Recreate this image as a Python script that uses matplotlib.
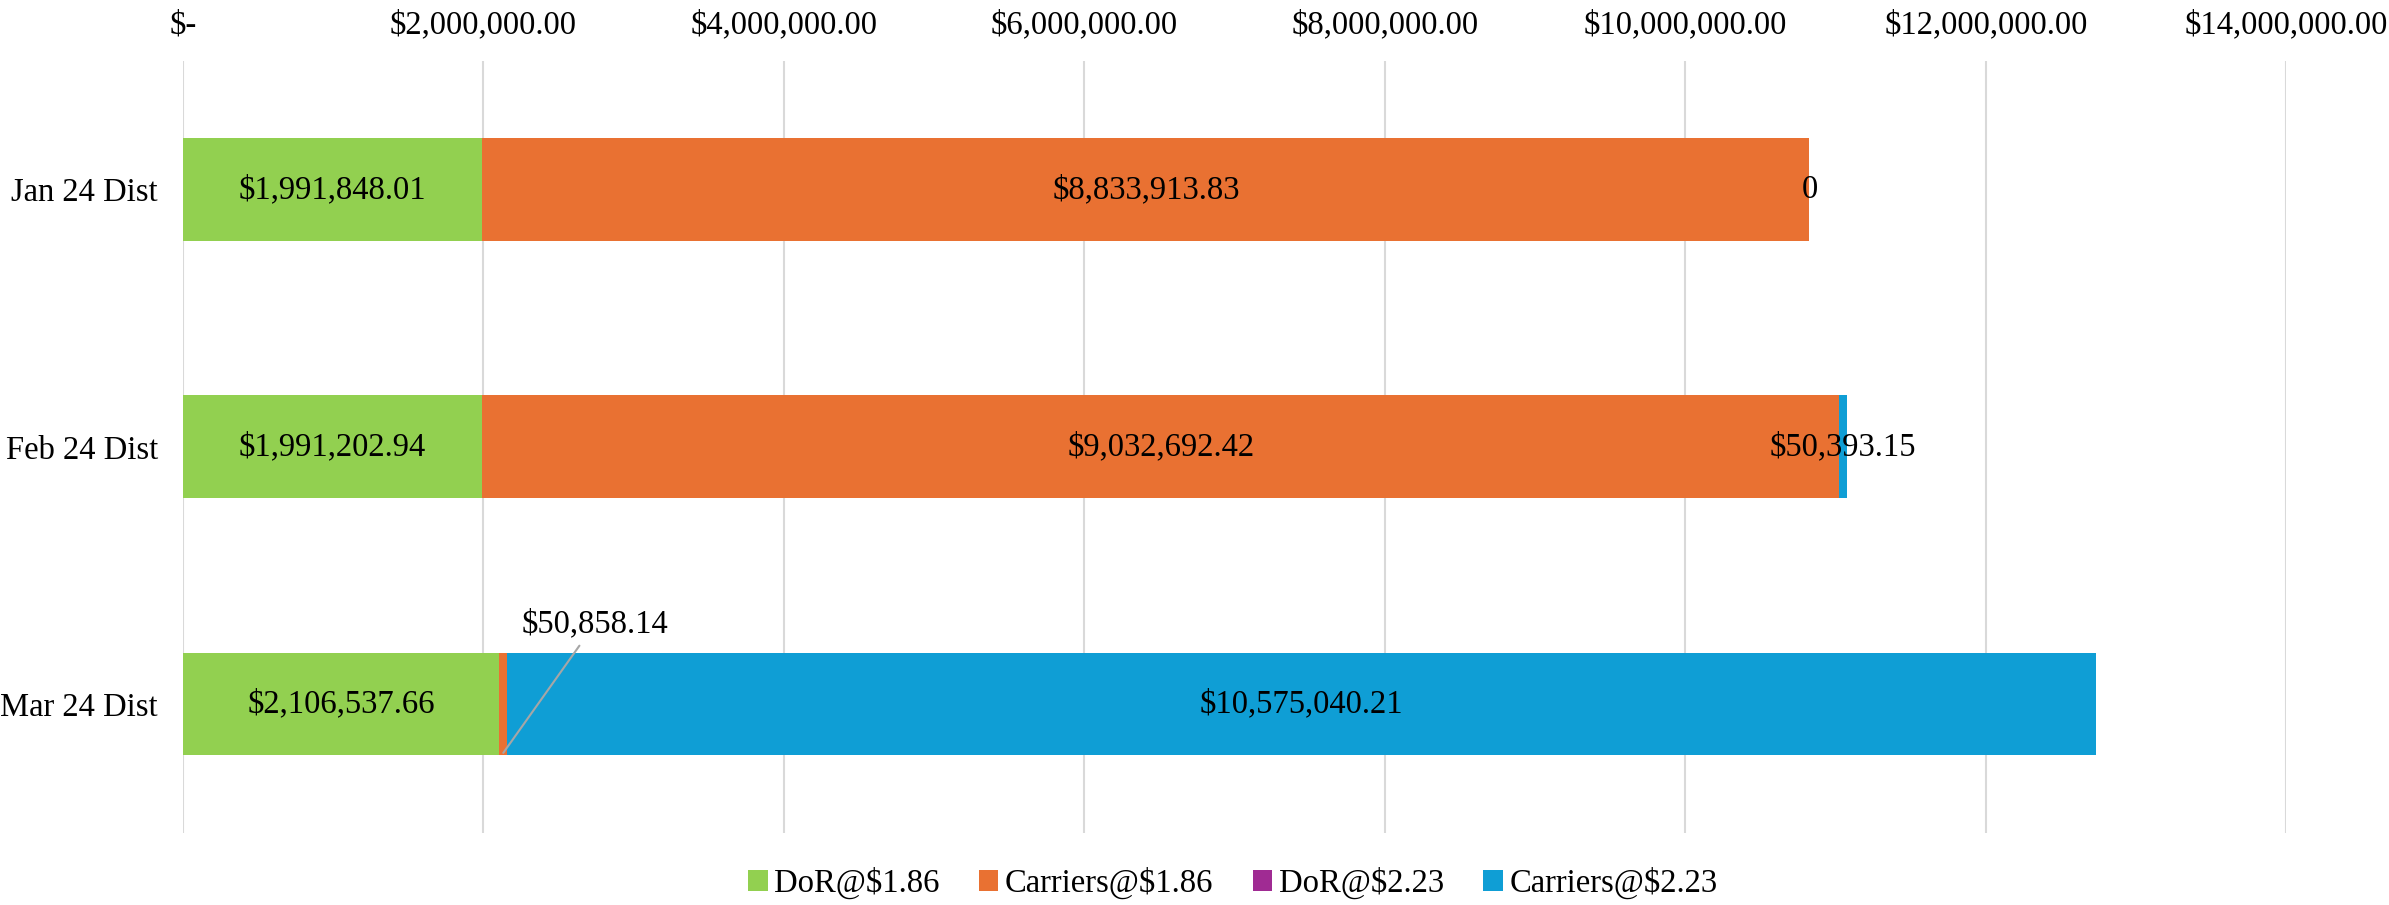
import matplotlib.pyplot as plt
from matplotlib.ticker import FuncFormatter

# Donnees
categories = ["Jan 24 Dist", "Feb 24 Dist", "Mar 24 Dist"]
series = ["DoR@$1.86", "Carriers@$1.86", "DoR@$2.23", "Carriers@$2.23"]
dor_186 = [1991848.01, 1991202.94, 2106537.66]
carriers_186 = [8833913.83, 9032692.42, 50858.14]
dor_223 = [0, 0, 0]
carriers_223 = [0, 50393.15, 10575040.21]
colors = ["#92D050", "#E97132", "#A02B93", "#0F9ED5"]
ticks = [0, 2e6, 4e6, 6e6, 8e6, 10e6, 12e6, 14e6]

plt.rcParams['font.family'] = ['Liberation Serif', 'DejaVu Serif']
FS = 23.5


def money(v):
    return "${:,.2f}".format(v)


fig = plt.figure(figsize=(23.89, 9.05), dpi=100)
ax = fig.add_axes([0.0766, 0.080, 0.8804, 0.8526])

values = [dor_186, carriers_186, dor_223, carriers_223]
y = list(range(len(categories)))
left = [0.0] * len(categories)
for name, vals, col in zip(series, values, colors):
    ax.barh(y, vals, left=left, height=0.4, color=col, label=name, zorder=2)
    left = [l + v for l, v in zip(left, vals)]

# Etiquettes des segments
for i in range(len(categories)):
    acc = 0.0
    for s, vals in enumerate(values):
        v = vals[i]
        mid = acc + v / 2
        acc += v
        if s == 2:
            continue
        if s == 3 and i == 0:
            ax.text(mid, i, "0", ha='center', va='center', fontsize=FS, zorder=4)
            continue
        if v == 0:
            continue
        if s == 1 and i == 2:
            # petite valeur : etiquette deplacee avec trait de rappel
            ax.annotate(money(v), xy=(mid, i + 0.19), xytext=(2.74e6, 1.69),
                        ha='center', va='center', fontsize=FS, zorder=4,
                        arrowprops=dict(arrowstyle='-', color='#A6A6A6', lw=1.5,
                                        shrinkA=3, shrinkB=0))
            continue
        ax.text(mid, i, money(v), ha='center', va='center', fontsize=FS, zorder=4)

ax.set_xlim(0, 14e6)
ax.set_ylim(2.5, -0.5)
ax.set_xticks(ticks)
ax.xaxis.set_major_formatter(FuncFormatter(lambda v, p: "$-" if v == 0 else money(v)))
ax.xaxis.tick_top()
ax.tick_params(axis='x', length=0, labelsize=FS, pad=15)
ax.set_yticks(y)
ax.set_yticklabels(categories)
ax.tick_params(axis='y', length=0, labelsize=FS, pad=18)
ax.grid(axis='x', color='#D9D9D9', lw=1.5, zorder=0)
for sp in ax.spines.values():
    sp.set_visible(False)

fig.legend(loc='center', bbox_to_anchor=(0.516, 0.024), ncol=4, frameon=False,
           fontsize=FS, handlelength=0.6, handleheight=0.6, handletextpad=0.2,
           columnspacing=1.2)

fig.savefig("out.png", dpi=100)
